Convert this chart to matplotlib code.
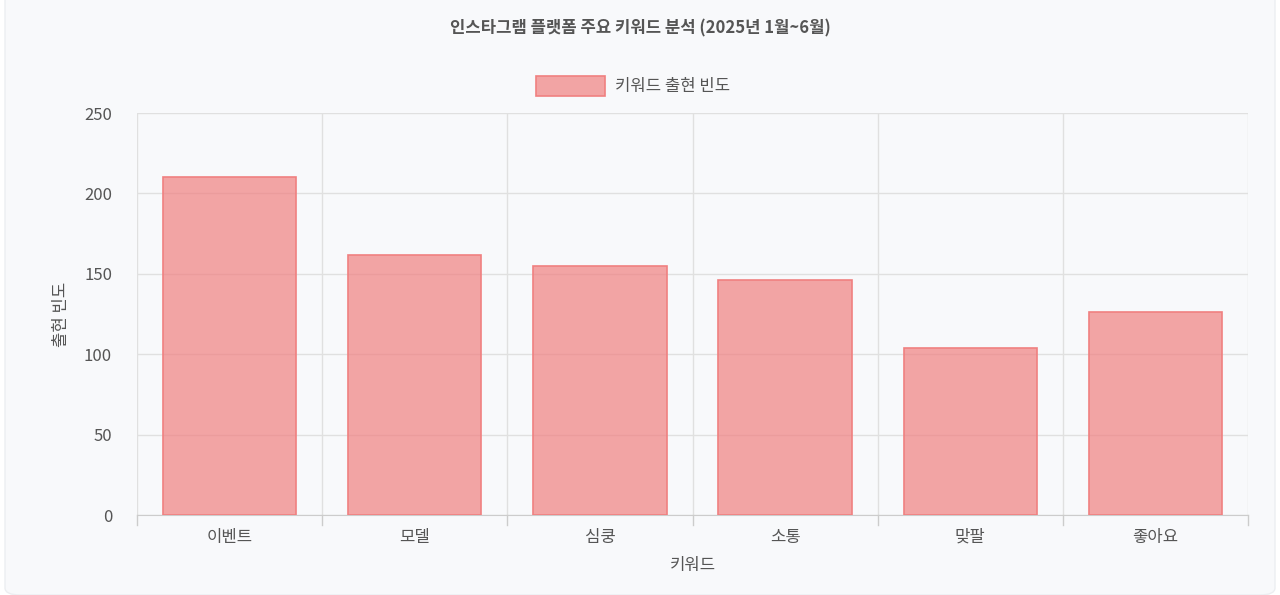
import matplotlib
matplotlib.use("Agg")
import matplotlib.pyplot as plt
from matplotlib.patches import FancyBboxPatch

plt.rcParams['font.family'] = ['Noto Sans CJK KR', 'DejaVu Sans']

categories = ["이벤트", "모델", "심쿵", "소통", "맞팔", "좋아요"]
values = [210, 162, 155, 146, 104, 126]
yticks = [0, 50, 100, 150, 200, 250]

fig = plt.figure(figsize=(12.8, 5.95), dpi=100)
fig.patch.set_facecolor("white")
bg = FancyBboxPatch((5/1280, 0), 1270/1280, 1.2, boxstyle="round,pad=0,rounding_size=0.012",
                    transform=fig.transFigure, facecolor="#f8f9fb", edgecolor="#eceef1", lw=1,
                    zorder=-10)
fig.patches.append(bg)

ax = fig.add_axes([137/1280, 1-515/595, (1248-137)/1280, (515-113)/595])
ax.set_zorder(1)
ax.set_facecolor("none")
x = list(range(len(categories)))
ax.bar(x, values, width=0.72, color=(240/255, 128/255, 128/255, 0.7),
       edgecolor="#f08080", linewidth=1.2, zorder=3)
ax.set_xlim(-0.5, len(categories)-0.5)
ax.set_ylim(0, 250)
ax.set_yticks(yticks)
ax.set_xticks(x)
ax.set_xticklabels(categories, fontsize=12, color="#555")
ax.tick_params(axis='y', labelsize=12, labelcolor="#555", length=0, pad=18)
ax.tick_params(axis='x', length=0, pad=10)
ax.grid(axis='y', color="#e0e0e0", lw=1, zorder=0)
for b in [i+0.5 for i in range(-1, len(categories))]:
    ax.axvline(b, color="#e0e0e0", lw=1, zorder=0)
    ax.plot([b, b], [0, -0.025], transform=ax.get_xaxis_transform(), color="#ccc", lw=1, clip_on=False)
for s in ["top", "right", "left"]:
    ax.spines[s].set_visible(False)
ax.spines["bottom"].set_color("#ccc")
ax.set_xlabel("키워드", fontsize=12, color="#555", labelpad=8)
ax.set_ylabel("출현 빈도", fontsize=12, color="#555", labelpad=10)

fig.text(0.5, 1-28/595, "인스타그램 플랫폼 주요 키워드 분석 (2025년 1월~6월)", ha="center", va="center",
         fontsize=12, fontweight="bold", color="#555")
fig.patches.append(plt.Rectangle((536/1280, 1-96/595), 69/1280, 20/595, transform=fig.transFigure,
                   facecolor=(240/255, 128/255, 128/255, 0.7), edgecolor="#f08080", lw=1.2))
fig.text(615/1280, 1-86/595, "키워드 출현 빈도", ha="left", va="center", fontsize=12, color="#555")

fig.savefig("out.png", dpi=100)
